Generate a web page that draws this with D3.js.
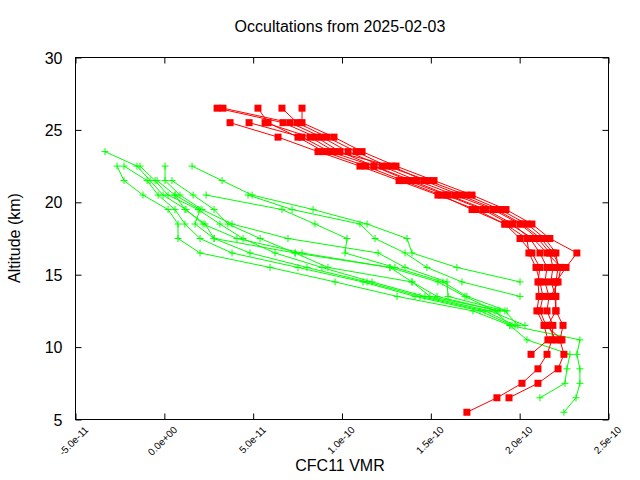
<!DOCTYPE html>
<html><head><meta charset="utf-8">
<script src="https://cdn.jsdelivr.net/npm/d3@7"></script>
<style>body{margin:0;background:#fff}svg{display:block}</style>
</head><body>
<svg id="c" width="640" height="480"></svg>
<script>
const title = "Occultations from 2025-02-03";
const xLabel = "CFC11 VMR";
const yLabel = "Altitude (km)";
const xTickValues = [-5e-11, 0, 5e-11, 1e-10, 1.5e-10, 2e-10, 2.5e-10];
const xTickLabels = ["-5.0e-11","0.0e+00","5.0e-11","1.0e-10","1.5e-10","2.0e-10","2.5e-10"];
const yTickValues = [5, 10, 15, 20, 25, 30];
const yTickLabels = ["5", "10", "15", "20", "25", "30"];
const valueUnit = 1e-11;   // profile values below are in units of 1e-11
const levelStep = 1;       // km between successive retrieval levels

// Red profiles: top altitude (km) and VMR values downward
const redTop = [26.5, 26.5, 26.5, 26.5, 26.5, 25.5, 25.5, 25.5];
const red1 = [2.97, 6.68, 8.54, 9.89, 11.80, 13.94, 15.97, 18.10, 19.62, 20.58, 21.14, 21.54, 21.42, 21.65, 21.54, 21.87, 21.82, 21.54, 21.03, 20.13, 18.72, 17.03];
const red2 = [3.30, 7.07, 8.87, 10.34, 12.25, 14.22, 16.36, 18.50, 20.02, 21.03, 21.70, 21.87, 21.76, 22.04, 22.04, 22.44, 22.27, 22.49, 22.16, 21.03, 19.40];
const red3 = [5.27, 5.84, 7.52, 8.99, 11.35, 13.43, 15.57, 17.32, 19.17, 20.02, 20.69, 21.14, 21.03, 21.09, 20.97, 21.37, 21.59, 20.64];
const red4 = [6.62, 7.47, 9.16, 10.79, 12.53, 14.84, 16.98, 18.89, 20.41, 21.42, 22.04, 22.16, 22.04, 21.99, 22.04, 21.59, 22.04];
const red5 = [7.75, 7.75, 9.55, 11.13, 13.04, 15.18, 17.32, 19.23, 20.69, 21.70, 23.22, 22.61, 22.04, 21.99];
const red6 = [3.70, 6.40, 8.65, 11.01, 13.21, 15.40, 17.54, 19.17, 20.41, 20.52, 20.92, 21.14, 21.31, 21.14, 21.48, 22.38];
const red7 = [4.77, 7.75, 9.32, 11.80, 13.71, 15.85, 17.93, 19.45, 20.75, 21.54, 22.32, 22.16, 21.76];
const red8 = [5.67, 8.20, 9.61, 12.81, 14.61, 16.64, 18.67, 20.13, 21.20, 21.87, 22.27];
const redProfiles = [red1, red2, red3, red4, red5, red6, red7, red8];

// Green profiles
const greenTop = [23.5, 22.5, 22.5, 22.5, 22.5, 22.5, 20.5, 21.5, 21.5, 20.5, 20.5];
const green1 = [-3.34, -1.54, -0.80, -0.07, 1.22, 2.18, 4.09, 7.75, 12.70, 15.40, 16.92, 18.61, 19.45, 20.41, 22.83, 22.66, 22.55, 21.14];
const green2 = [-2.66, -2.27, -1.20, 0.21, 0.77, 0.77, 2.01, 5.95, 9.61, 13.10, 17.37, 19.45, 23.39, 23.22, 23.39, 23.39, 23.17, 22.49];
const green3 = [-2.27, -0.97, -0.35, 0.60, 1.16, 2.01, 3.81, 7.52, 11.18, 14.11, 17.77, 19.57];
const green4 = [-1.37, -0.52, 0.21, 1.90, 3.13, 4.43, 6.23, 8.87, 11.69, 14.67, 18.33, 20.30];
const green5 = [0.04, 0.04, 0.88, 2.12, 3.81, 6.96, 12.03, 13.55, 15.91, 15.97, 19.17, 19.90];
const green6 = [1.56, 3.25, 4.94, 8.37, 11.41, 13.66, 13.94, 16.47, 20.02];
const green7 = [4.71, 7.19, 11.01, 11.86, 13.55, 14.78, 16.75, 20.02];
const green8 = [-0.41, 0.60, 2.01, 1.73, 2.80, 4.82, 8.03, 11.41, 14.39, 18.05, 19.74];
const green9 = [0.43, 1.62, 2.80, 3.58, 5.39, 7.36, 9.21, 13.94, 15.35, 18.78];
const green10 = [2.35, 6.62, 8.48, 10.28, 10.17, 12.98, 15.68, 17.03, 19.29];
const green11 = [0.60, 1.16, 2.29, 2.80, 7.36, 12.70, 13.94, 14.95, 18.89];
const greenProfiles = [green1, green2, green3, green4, green5, green6, green7, green8, green9, green10, green11];

const redColor = "#ff0000", greenColor = "#00ff00";
const font = "'Liberation Sans', Arial, sans-serif";

const svg = d3.select("#c");
const L = 75.5, R = 608.5, T = 57.5, B = 419.5;
const x = d3.scaleLinear().domain([-5e-11, 2.5e-10]).range([L, R]);
const y = d3.scaleLinear().domain([5, 30]).range([B, T]);

function toPoints(top, vals) {
  return vals.map((v, j) => ({ v: v * valueUnit, alt: top - j * levelStep }));
}
const line = d3.line().x(d => x(d.v)).y(d => y(d.alt));

// axes (inward ticks, mirrored)
const tick = 6;
const gB = svg.append("g").attr("transform", `translate(0,${B})`)
  .call(d3.axisBottom(x).tickValues(xTickValues).tickSizeInner(-tick).tickSizeOuter(0)
    .tickFormat((d, i) => xTickLabels[i]));
gB.selectAll("text").attr("x", 0).attr("y", 0).attr("dy", 0)
  .attr("text-anchor", "end").attr("font-size", 10).attr("font-family", font)
  .attr("transform", "translate(13,11) rotate(-45)");
const gT = svg.append("g").attr("transform", `translate(0,${T})`)
  .call(d3.axisTop(x).tickValues(xTickValues).tickSizeInner(-tick).tickSizeOuter(0).tickFormat(""));
const gL = svg.append("g").attr("transform", `translate(${L},0)`)
  .call(d3.axisLeft(y).tickValues(yTickValues).tickSizeInner(-tick).tickSizeOuter(0)
    .tickFormat((d, i) => yTickLabels[i]));
gL.selectAll("text").attr("x", -13).attr("dy", "0.35em").attr("font-size", 16).attr("font-family", font);
const gR = svg.append("g").attr("transform", `translate(${R},0)`)
  .call(d3.axisRight(y).tickValues(yTickValues).tickSizeInner(-tick).tickSizeOuter(0).tickFormat(""));
[gB, gT, gL, gR].forEach(g => { g.select(".domain").remove(); g.selectAll("line").attr("stroke", "#000"); });

// green series
greenProfiles.forEach((vals, i) => {
  const pts = toPoints(greenTop[i], vals);
  svg.append("path").attr("d", line(pts)).attr("fill", "none").attr("stroke", greenColor).attr("stroke-width", 1);
  svg.append("g").selectAll("path").data(pts).join("path")
    .attr("d", d => `M${x(d.v) - 3.5},${y(d.alt)}H${x(d.v) + 3.5}M${x(d.v)},${y(d.alt) - 3.5}V${y(d.alt) + 3.5}`)
    .attr("stroke", greenColor).attr("stroke-width", 1).attr("fill", "none");
});
// red series
redProfiles.forEach((vals, i) => {
  const pts = toPoints(redTop[i], vals);
  svg.append("path").attr("d", line(pts)).attr("fill", "none").attr("stroke", redColor).attr("stroke-width", 1);
  svg.append("g").selectAll("rect").data(pts).join("rect")
    .attr("x", d => x(d.v) - 3.5).attr("y", d => y(d.alt) - 3.5)
    .attr("width", 7).attr("height", 7).attr("fill", redColor);
});

// border
svg.append("rect").attr("x", L).attr("y", T).attr("width", R - L).attr("height", B - T)
  .attr("fill", "none").attr("stroke", "#000").attr("stroke-width", 1);

// texts
svg.append("text").attr("x", 340).attr("y", 32).attr("text-anchor", "middle")
  .attr("font-size", 16).attr("font-family", font).text(title);
svg.append("text").attr("x", 340).attr("y", 471).attr("text-anchor", "middle")
  .attr("font-size", 16).attr("font-family", font).text(xLabel);
svg.append("text").attr("transform", "translate(20,238) rotate(-90)").attr("text-anchor", "middle")
  .attr("font-size", 16).attr("font-family", font).text(yLabel);
</script>
</body></html>
